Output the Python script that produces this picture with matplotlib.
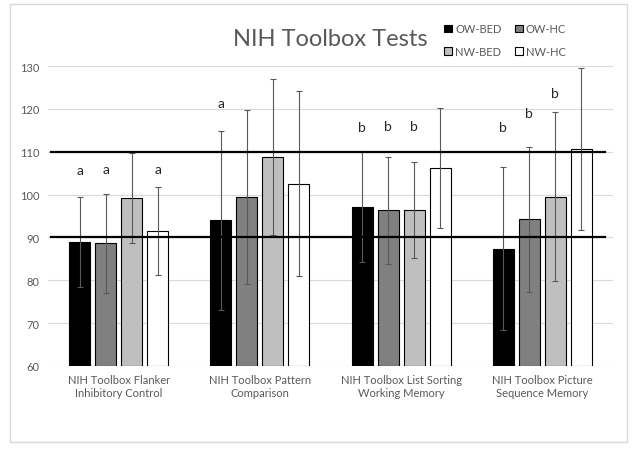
import matplotlib
matplotlib.use("Agg")
import matplotlib.pyplot as plt
import numpy as np
from matplotlib.patches import Rectangle

plt.rcParams['font.family'] = ['Lato', 'DejaVu Sans']

categories = ["NIH Toolbox Flanker\nInhibitory Control", "NIH Toolbox Pattern\nComparison",
              "NIH Toolbox List Sorting\nWorking Memory", "NIH Toolbox Picture\nSequence Memory"]
groups = ["OW-BED", "OW-HC", "NW-BED", "NW-HC"]
colors = ["#000000", "#808080", "#bfbfbf", "#ffffff"]

means = {
    "OW-BED": [88.9, 94.0, 97.2, 87.4],
    "OW-HC":  [88.6, 99.5, 96.3, 94.2],
    "NW-BED": [99.3, 108.8, 96.3, 99.5],
    "NW-HC":  [91.5, 102.5, 106.2, 110.7],
}
errs = {
    "OW-BED": [10.5, 20.9, 12.9, 19.1],
    "OW-HC":  [11.5, 20.3, 12.4, 17.0],
    "NW-BED": [10.5, 18.2, 11.2, 19.7],
    "NW-HC":  [10.2, 21.6, 13.9, 18.9],
}
# significance letters: (category index, group index, letter, y-value)
letters = [
    (0, 0, "a", 105.7), (0, 1, "a", 105.9), (0, 3, "a", 105.9),
    (1, 0, "a", 121.4),
    (2, 0, "b", 115.8), (2, 1, "b", 116.1), (2, 2, "b", 116.1),
    (3, 0, "b", 115.8), (3, 1, "b", 119.0), (3, 2, "b", 123.7),
]
ref_lines = [110, 90]
yticks = [60, 70, 80, 90, 100, 110, 120, 130]

fig = plt.figure(figsize=(6.4, 4.56), dpi=100)
fig.patches.append(Rectangle((10/640, 1-443/456), 617/640, 438/456, transform=fig.transFigure,
                             fill=False, edgecolor="#d9d9d9", linewidth=1.0))
ax = fig.add_axes([48/640, 1-367/456, 565/640, 300/456])

x = np.arange(len(categories))
bw = 0.149
step = 0.184
handles = {}
for i, g in enumerate(groups):
    pos = x + (i - 1.5) * step
    b = ax.bar(pos, np.array(means[g]) - 60, bottom=60, width=bw, color=colors[i],
               edgecolor="black", linewidth=0.8, label=g, zorder=3)
    handles[g] = b
    ax.errorbar(pos, means[g], yerr=errs[g], fmt="none", ecolor="#595959",
                elinewidth=0.8, capsize=2.5, capthick=0.8, zorder=4)

for ci, gi, letter, yv in letters:
    ax.text(x[ci] + (gi - 1.5) * step, yv, letter, ha="center", va="center",
            fontsize=10, color="#262626", zorder=5)

for r in ref_lines:
    ax.axhline(r, xmin=0.005, xmax=0.985, color="black", linewidth=1.6, zorder=5)

ax.set_xlim(-0.5, len(categories) - 0.5)
ax.set_ylim(60, 130)
ax.set_yticks(yticks)
ax.yaxis.grid(True, color="#d9d9d9", linewidth=0.8, zorder=0)
ax.set_axisbelow(True)
for s in ax.spines.values():
    s.set_visible(False)
ax.tick_params(axis="both", length=0, labelsize=8, colors="#595959", pad=6)
ax.set_xticks(x)
ax.set_xticklabels(categories, fontsize=8, color="#595959")

fig.text(330/640, 1-40/456, "NIH Toolbox Tests", ha="center", va="center",
         fontsize=17, color="#595959")
order = ["OW-BED", "NW-BED", "OW-HC", "NW-HC"]
leg = fig.legend([handles[g] for g in order], order, loc="center",
                 bbox_to_anchor=(505/640, 1-41/456), ncol=2, frameon=False,
                 fontsize=8, handlelength=0.7, handleheight=0.7, handletextpad=0.3,
                 columnspacing=1.2, labelspacing=1.0)
for t in leg.get_texts():
    t.set_color("#595959")

fig.savefig("out.png", dpi=100)
